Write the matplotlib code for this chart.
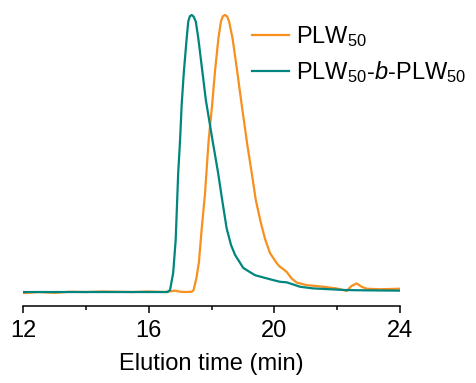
import numpy as np
import matplotlib
matplotlib.use('Agg')
from matplotlib import pyplot as plt

plt.rcParams['font.family'] = ['Liberation Sans', 'DejaVu Sans']
plt.rcParams['mathtext.fontset'] = 'custom'
plt.rcParams['mathtext.rm'] = 'Liberation Sans'
plt.rcParams['mathtext.it'] = 'Liberation Sans:italic'

# GPC traces (normalised intensity)
plw_t = [12.0, 12.5, 13.0, 13.5, 14.0, 14.5, 15.0, 15.5, 16.0, 16.5, 16.84, 17.0,
         17.2, 17.37, 17.43, 17.52, 17.60, 17.69, 17.79, 17.91, 18.02, 18.11,
         18.22, 18.30, 18.36, 18.43, 18.50, 18.56, 18.67, 18.82, 18.94, 19.14,
         19.28, 19.41, 19.56, 19.70, 19.86, 20.07, 20.18, 20.28, 20.39, 20.55, 20.71,
         21.03, 21.56, 21.98, 22.3, 22.46, 22.62, 22.78, 22.94, 23.36, 23.7, 24.0]
plw_i = [-0.004, 0.0, -0.003, 0.001, 0.0, 0.002, 0.001, 0.0, 0.002, 0.0, 0.005, 0.001,
         0.0, 0.001, 0.007, 0.05, 0.108, 0.231, 0.35, 0.549, 0.675, 0.795,
         0.916, 0.976, 0.995, 1.0, 0.994, 0.976, 0.916, 0.795, 0.693, 0.531,
         0.43, 0.332, 0.255, 0.193, 0.141, 0.105, 0.091, 0.083, 0.073, 0.049, 0.034,
         0.025, 0.019, 0.013, 0.004, 0.022, 0.031, 0.019, 0.012, 0.010, 0.011, 0.012]

blk_t = [12.0, 13.0, 14.0, 15.0, 16.0, 16.6, 16.68, 16.78, 16.86, 16.94, 17.0,
         17.05, 17.12, 17.21, 17.26, 17.31, 17.37, 17.43, 17.50, 17.58, 17.71,
         17.82, 18.03, 18.21, 18.34, 18.48, 18.62, 18.75, 19.01, 19.38, 19.70,
         20.0, 20.18, 20.39, 20.5, 20.82, 21.24, 22.3, 23.0, 24.0]
blk_i = [0.0, 0.0, 0.0, 0.0, 0.0, 0.0, 0.007, 0.069, 0.188, 0.43, 0.549,
         0.675, 0.795, 0.916, 0.976, 0.995, 1.0, 0.994, 0.976, 0.916, 0.795,
         0.693, 0.549, 0.43, 0.332, 0.231, 0.17, 0.134, 0.087, 0.061, 0.051,
         0.042, 0.037, 0.035, 0.031, 0.019, 0.013, 0.007, 0.006, 0.005]

fig = plt.figure(figsize=(4.77, 3.83), dpi=100)
ax = fig.add_axes([0.0482, 0.201, 0.7904, 0.773])

ax.plot(plw_t, plw_i, color='#F7901E', lw=1.6, label=r'PLW$_{50}$')
ax.plot(blk_t, blk_i, color='#00857F', lw=1.6, label=r'PLW$_{50}$-$b$-PLW$_{50}$')

ax.set_xlim(12, 24)
ax.set_ylim(-0.0505, 1.018)
ax.set_xticks([12, 16, 20, 24])
ax.set_xticks([14, 18, 22], minor=True)
ax.set_yticks([])
for s in ['top', 'right', 'left']:
    ax.spines[s].set_visible(False)
ax.spines['bottom'].set_linewidth(1.1)
ax.tick_params(axis='x', which='major', length=5, width=1.1, labelsize=17, pad=5)
ax.tick_params(axis='x', which='minor', length=3, width=1.1)
ax.set_xlabel('Elution time (min)', fontsize=17, labelpad=8)

ax.legend(loc='upper left', bbox_to_anchor=(252 / 477, 1 - 24 / 383),
          bbox_transform=fig.transFigure, frameon=False, fontsize=17,
          handlelength=1.55, handletextpad=0.3, labelspacing=0.45,
          borderpad=0, borderaxespad=0)

fig.savefig('out.png', dpi=100)
